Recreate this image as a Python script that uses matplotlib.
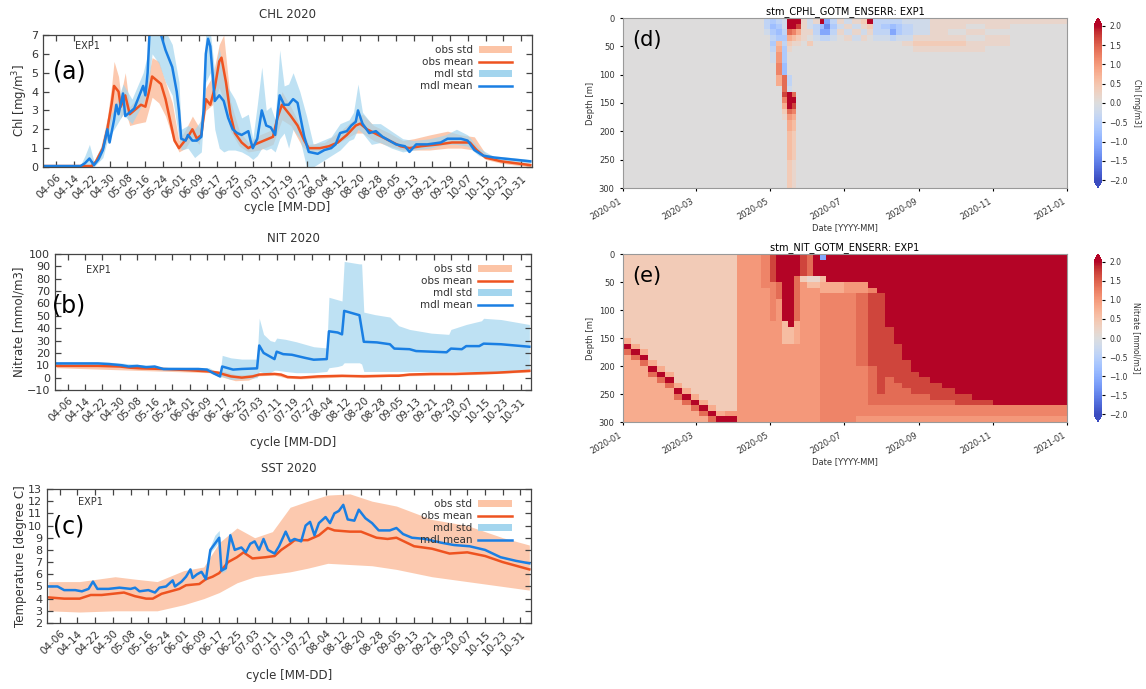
import numpy as np
import pandas as pd
import matplotlib
matplotlib.use("Agg")
import matplotlib.pyplot as plt
import matplotlib.dates as mdates
from matplotlib.patches import Patch
from matplotlib.lines import Line2D

W, H = 1146, 689

# ---------------- data ----------------
cycle_ticks = ['04-06', '04-14', '04-22', '04-30', '05-08', '05-16', '05-24', '06-01',
               '06-09', '06-17', '06-25', '07-03', '07-11', '07-19', '07-27', '08-04',
               '08-12', '08-20', '08-28', '09-05', '09-13', '09-21', '09-29', '10-07',
               '10-15', '10-23', '10-31']

# (a) CHL
chl_mdl_t = ['04-01', '04-17', '04-19', '04-21', '04-23', '04-25', '04-27', '04-29', '04-30',
             '05-02', '05-03', '05-04', '05-06', '05-07', '05-09', '05-11', '05-13', '05-15', '05-16',
             '05-17', '05-18', '05-20', '05-22', '05-23', '05-25', '05-28', '05-30', '05-31',
             '06-01', '06-03', '06-04', '06-06', '06-08', '06-10', '06-11', '06-12', '06-13', '06-14',
             '06-15', '06-16', '06-18', '06-20', '06-22', '06-24', '06-26', '06-28',
             '07-01', '07-02', '07-03', '07-05', '07-07', '07-08', '07-09', '07-11', '07-13', '07-15',
             '07-17', '07-19', '07-21', '07-23', '07-24', '07-26', '07-28',
             '08-01', '08-04', '08-07', '08-09', '08-11', '08-14', '08-16', '08-18', '08-19', '08-21',
             '08-24', '08-27', '08-30',
             '09-02', '09-05', '09-09', '09-11', '09-14', '09-19', '09-25', '09-28',
             '10-04', '10-07', '10-10', '10-14', '10-19', '10-27', '11-04']
chl_mdl = [0.05, 0.05, 0.2, 0.45, 0.1, 0.4, 0.9, 2.0, 1.3,
           2.5, 3.3, 2.8, 3.9, 2.7, 2.9, 3.1, 3.7, 4.3, 3.8, 5.0, 7.5, 8.5, 8.0, 7.0, 6.2, 5.3, 4.0, 3.0,
           1.5, 1.4, 1.7, 1.4, 1.4, 1.6, 3.0, 6.0, 6.8, 6.4, 5.0, 3.5, 3.8, 3.5, 2.6, 2.0, 1.8, 1.7,
           1.9, 1.4, 1.0, 1.5, 3.0, 2.6, 2.2, 2.1, 1.7, 3.8, 3.3, 3.3, 3.6, 3.4, 2.8, 1.6, 0.8,
           0.7, 0.9, 1.0, 1.2, 1.8, 1.9, 2.2, 2.4, 3.0, 2.3, 1.8, 1.9, 1.6,
           1.4, 1.2, 1.1, 0.8, 1.2, 1.2, 1.3, 1.5,
           1.5, 1.4, 0.9, 0.6, 0.5, 0.4, 0.3]
chl_obs_t = ['04-01', '04-22', '04-24', '04-27', '04-29',
             '05-01', '05-02', '05-04', '05-05', '05-07', '05-09', '05-11', '05-14', '05-16', '05-18',
             '05-19', '05-21', '05-23', '05-25', '05-27', '05-29', '05-31',
             '06-02', '06-04', '06-06', '06-08', '06-10', '06-12', '06-14', '06-16', '06-18', '06-19',
             '06-21', '06-23', '06-25', '06-28',
             '07-01', '07-04', '07-08', '07-12', '07-14', '07-16', '07-18', '07-20', '07-23', '07-26', '07-28',
             '08-02', '08-06', '08-10', '08-14', '08-18', '08-20', '08-23', '08-28',
             '09-02', '09-07', '09-11', '09-16', '09-24', '09-30',
             '10-04', '10-08', '10-11', '10-15', '10-22', '11-04']
chl_obs = [0.05, 0.05, 0.3, 1.0, 2.0,
           3.4, 4.3, 4.0, 3.2, 3.8, 2.8, 3.0, 3.3, 3.2, 4.2, 4.8, 4.6, 4.4, 3.6, 2.5, 1.4, 1.0,
           1.3, 1.6, 2.0, 1.5, 1.7, 3.6, 3.3, 4.2, 5.6, 5.8, 4.5, 2.8, 1.8, 1.3,
           1.0, 1.2, 1.4, 1.6, 2.6, 3.3, 3.0, 2.7, 2.2, 1.4, 1.0,
           1.0, 1.1, 1.3, 1.7, 2.2, 2.3, 2.0, 1.7,
           1.4, 1.1, 1.0, 1.1, 1.2, 1.3,
           1.3, 1.3, 0.9, 0.5, 0.3, 0.1]
chl_obs_band_t = ['04-01', '04-22', '04-26', '04-29',
                  '05-01', '05-02', '05-04', '05-05', '05-07', '05-09', '05-12', '05-16', '05-19',
                  '05-22', '05-25', '05-28', '05-31',
                  '06-03', '06-06', '06-09', '06-12', '06-15', '06-18', '06-20', '06-23', '06-27',
                  '07-01', '07-06', '07-12', '07-16', '07-20', '07-25', '07-28',
                  '08-04', '08-12', '08-18', '08-21', '08-26',
                  '09-02', '09-08', '09-13', '09-20', '09-28',
                  '10-04', '10-10', '10-15', '10-22', '11-04']
chl_obs_lo = [0, 0, 0.5, 1.6, 2.6, 3.0, 3.2, 2.6, 3.0, 2.2, 2.3, 2.4, 3.7, 3.4, 2.7, 1.6, 0.8,
              1.0, 1.6, 1.2, 3.0, 3.3, 4.2, 3.5, 1.9, 1.1, 0.8, 0.9, 1.2, 2.5, 2.2, 1.1, 0.8,
              0.9, 1.4, 1.8, 1.8, 1.4, 1.1, 0.9, 0.9, 0.9, 1.0, 1.0, 0.9, 0.4, 0.2, 0.0]
chl_obs_hi = [0.1, 0.1, 1.0, 2.6, 4.4, 5.6, 4.8, 3.8, 5.0, 3.2, 3.6, 4.0, 5.8, 5.6, 4.5, 3.4, 1.4,
              2.0, 2.7, 2.1, 4.2, 4.8, 6.5, 7.0, 3.5, 1.9, 1.3, 1.7, 2.0, 4.0, 3.2, 2.0, 1.2,
              1.3, 2.0, 2.6, 2.8, 2.2, 1.8, 1.4, 1.5, 1.7, 1.9, 1.7, 1.6, 0.7, 0.4, 0.2]
chl_mdl_band_t = ['04-01', '04-17', '04-19', '04-21', '04-23', '04-27', '04-29',
                  '05-02', '05-06', '05-10', '05-15', '05-17', '05-19', '05-22', '05-25', '05-28', '05-31',
                  '06-01', '06-04', '06-07', '06-10', '06-12', '06-14', '06-16', '06-18', '06-20',
                  '06-22', '06-25', '06-28',
                  '07-01', '07-03', '07-05', '07-07', '07-09', '07-11', '07-13', '07-15', '07-17',
                  '07-19', '07-21', '07-24', '07-27', '07-30',
                  '08-03', '08-07', '08-11', '08-15', '08-17', '08-19', '08-21', '08-25', '08-29',
                  '09-03', '09-08', '09-13', '09-20', '09-27',
                  '10-02', '10-07', '10-12', '10-18', '10-27', '11-04']
chl_mdl_lo = [0, 0, 0, 0, 0, 0.5, 1.4,
              2.0, 2.8, 2.3, 3.4, 4.0, 6.0, 5.5, 4.5, 3.8, 1.5,
              0.9, 1.0, 0.5, 0.8, 4.5, 5.0, 2.0, 1.0, 0.8, 0.9, 0.9, 0.8,
              0.6, 0.4, 0.6, 1.0, 0.9, 1.0, 0.8, 1.5, 1.8, 1.0, 2.0, 1.5, 0.0, 0.0,
              0.3, 0.6, 0.9, 1.4, 1.5, 2.0, 1.8, 1.2, 1.3,
              1.0, 0.8, 0.9, 1.0, 1.2,
              1.2, 1.1, 0.6, 0.4, 0.3, 0.2]
chl_mdl_hi = [0.1, 0.1, 0.6, 1.2, 0.3, 1.3, 2.6,
              3.0, 4.4, 3.6, 5.0, 6.0, 9.0, 9.0, 7.2, 6.5, 4.5,
              2.0, 2.2, 2.0, 2.5, 7.2, 7.2, 5.0, 6.3, 5.0, 4.2, 3.6, 2.6,
              2.8, 1.5, 3.3, 5.3, 3.0, 3.2, 2.5, 6.2, 4.3, 4.4, 5.0, 4.0, 2.7, 1.2,
              1.4, 1.6, 2.3, 2.5, 2.9, 4.4, 2.9, 2.3, 2.3,
              1.9, 1.5, 1.4, 1.5, 1.7,
              2.0, 1.7, 1.0, 0.6, 0.5, 0.4]

# (b) NIT
nit_mdl_t = ['04-01', '04-20', '04-25', '05-01', '05-04', '05-08', '05-12', '05-16', '05-20', '05-28',
             '06-05', '06-09', '06-12', '06-15', '06-16', '06-19', '06-21', '06-25', '07-02', '07-03',
             '07-05', '07-09', '07-10', '07-11', '07-14', '07-18', '07-24', '07-28', '08-03', '08-04',
             '08-08', '08-10', '08-11', '08-15', '08-18', '08-20', '08-26', '09-01', '09-03', '09-10',
             '09-13', '09-20', '09-27', '09-29', '10-04', '10-06', '10-12', '10-14', '10-22', '11-04']
nit_mdl = [11.5, 11.5, 11.0, 10.0, 9.0, 9.5, 8.5, 9.0, 7.0, 7.0,
           7.0, 6.5, 3.5, 1.0, 9.0, 7.5, 6.5, 7.0, 7.5, 26.0,
           20.0, 16.0, 15.0, 21.0, 19.0, 18.5, 16.0, 14.5, 15.0, 37.5,
           36.5, 35.0, 54.0, 52.0, 50.5, 29.0, 28.5, 27.0, 23.5, 23.0,
           21.5, 21.0, 20.5, 23.5, 23.0, 25.5, 25.5, 27.5, 27.0, 25.0]
nit_mdl_band_t = ['04-01', '04-25', '05-10', '05-20', '06-05', '06-10', '06-13', '06-15', '06-16', '06-20',
                  '06-25', '07-02', '07-03', '07-05', '07-08', '07-10', '07-11', '07-15', '07-20', '07-28',
                  '08-03', '08-04', '08-08', '08-10', '08-11', '08-18', '08-19', '08-20', '08-25', '09-01',
                  '09-05', '09-10', '09-20', '09-28', '09-29', '10-06', '10-13', '10-14', '10-22', '11-04']
nit_mdl_lo = [10, 9.5, 7.5, 6, 6, 5, 2, 0, 1, -1.5,
              -1, 0, 5, 4, 4, 6, 6, 5, 4, 4,
              5, 8, 9, 10, 12, 12, 11, 5, 5, 5,
              5, 5, 5, 5, 5, 5, 5, 5, 5, 5]
nit_mdl_hi = [12.5, 12.5, 10.5, 8.5, 8, 8, 5, 3, 18, 16,
              15, 15, 48, 35, 30, 29, 32, 31, 29, 25,
              24, 65, 63, 62, 94, 92, 92, 53, 51, 49,
              42, 39, 36, 35, 39, 43, 46, 48, 47, 43]
nit_obs_t = ['04-01', '04-20', '04-30', '05-05', '05-10', '05-20', '06-01', '06-10', '06-14', '06-17',
             '06-20', '06-25', '06-30', '07-03', '07-10', '07-13', '07-16', '07-22', '07-30', '08-10',
             '08-20', '09-01', '09-05', '09-10', '09-20', '10-01', '10-10', '10-20', '11-04']
nit_obs = [9.5, 9.5, 9.0, 8.0, 7.5, 7.0, 6.0, 5.0, 4.0, 2.5,
           1.0, 0.0, 1.0, 2.5, 3.0, 2.5, 0.5, 0.0, 1.0, 1.5,
           1.0, 1.5, 1.5, 2.5, 3.0, 3.0, 3.5, 4.0, 5.5]
nit_obs_band_t = ['04-01', '06-10', '06-17', '06-22', '06-28', '07-03', '07-10', '07-16', '07-22',
                  '08-10', '09-10', '10-10', '11-04']
nit_obs_lo = [8, 4, 0, -2.5, -2, 1.5, 2, -0.5, -1, 0.5, 1.5, 2.5, 4.5]
nit_obs_hi = [11, 6.5, 5, 2.5, 2.5, 3.5, 4, 1.5, 1, 2.5, 3.5, 4.5, 6.5]

# (c) SST
sst_obs_t = ['04-01', '04-08', '04-15', '04-20', '04-25', '04-30',
             '05-05', '05-10', '05-15', '05-18', '05-22', '05-26', '05-30',
             '06-02', '06-08', '06-11', '06-14', '06-17', '06-21', '06-25', '06-28',
             '07-02', '07-08', '07-12', '07-15', '07-19', '07-21', '07-27',
             '08-01', '08-05', '08-08', '08-15', '08-20', '08-27',
             '09-01', '09-05', '09-13', '09-21', '09-29', '10-07', '10-15', '10-23', '11-04']
sst_obs = [4.1, 4.0, 4.0, 4.3, 4.3, 4.4,
           4.5, 4.2, 4.0, 4.0, 4.4, 4.6, 4.8,
           5.1, 5.2, 5.6, 5.8, 6.1, 7.0, 7.4, 7.8,
           7.3, 7.4, 7.5, 8.0, 8.5, 8.8, 8.8,
           9.2, 9.8, 9.6, 9.5, 9.5, 9.0,
           8.9, 9.0, 8.3, 8.1, 7.7, 7.8, 7.5, 7.0, 6.4]
sst_mdl_t = ['04-01', '04-05', '04-08', '04-13', '04-16', '04-19', '04-21', '04-23', '04-28',
             '05-03', '05-08', '05-10', '05-12', '05-16', '05-19', '05-21', '05-24', '05-27', '05-28', '05-31',
             '06-02', '06-04', '06-05', '06-07', '06-09', '06-11', '06-13', '06-15', '06-17', '06-18',
             '06-20', '06-22', '06-24', '06-27', '06-29',
             '07-01', '07-03', '07-05', '07-07', '07-09', '07-12', '07-14', '07-17', '07-19', '07-21',
             '07-24', '07-26', '07-28', '07-30',
             '08-01', '08-04', '08-06', '08-08', '08-10', '08-12', '08-14', '08-17', '08-19', '08-22',
             '08-25', '08-28',
             '09-02', '09-05', '09-08', '09-12', '09-18', '09-25',
             '10-01', '10-08', '10-15', '10-22', '10-29', '11-04']
sst_mdl = [5.0, 5.0, 4.7, 4.7, 4.6, 4.8, 5.4, 4.8, 4.8,
           4.9, 4.8, 4.9, 4.6, 4.7, 4.5, 4.9, 5.0, 5.5, 5.0, 5.4,
           5.8, 6.4, 5.7, 6.0, 6.2, 5.6, 8.0, 8.5, 9.0, 6.3, 6.5, 9.2, 8.0, 8.2, 7.8,
           8.5, 8.7, 8.0, 8.9, 8.0, 7.7, 8.3, 9.5, 8.7, 8.9, 8.7, 10.0, 10.3, 9.2,
           10.2, 10.7, 10.2, 11.0, 11.2, 11.7, 10.5, 10.4, 11.3, 10.6, 10.2, 9.6,
           9.6, 9.8, 9.3, 9.0, 8.9, 8.6,
           8.4, 8.3, 8.0, 7.4, 7.1, 6.9]
sst_obs_band_t = ['04-01', '04-15', '05-01', '05-10', '05-20', '06-01', '06-10', '06-17', '06-25', '07-03',
                  '07-11', '07-19', '07-27', '08-05', '08-15', '08-25', '09-05', '09-21', '10-07', '10-23',
                  '11-04']
sst_obs_lo = [3.0, 2.9, 3.0, 3.0, 3.0, 3.5, 4.0, 4.5, 5.3, 5.8, 6.0, 6.2, 6.5, 6.9, 6.8, 6.7, 6.4, 5.8,
              5.4, 5.0, 4.7]
sst_obs_hi = [5.4, 5.4, 5.8, 5.6, 5.4, 6.3, 6.6, 8.6, 9.8, 9.0, 9.5, 11.5, 12.0, 12.5, 12.6, 12.0, 11.6,
              10.5, 10.0, 9.0, 8.4]
sst_mdl_band_t = ['06-11', '06-13', '06-15', '06-17', '06-18', '06-20', '06-22', '06-24']
sst_mdl_lo = [5.5, 7.8, 8.2, 8.7, 6.1, 6.3, 9.0, 7.8]
sst_mdl_hi = [5.7, 8.3, 9.2, 9.6, 6.6, 6.7, 9.5, 8.2]

# (d), (e) depth-time error sections, one string per time column (surface -> bottom)
# "n*c" repeats a code n times; codes map to values in err_code
err_code = {'.': 0.0, '1': 0.2, '2': 0.4, '3': 0.6, '4': 0.8, '5': 1.0, '6': 1.2, '7': 1.4,
            '8': 1.7, '9': 2.3, 'a': -0.2, 'b': -0.4, 'c': -0.6, 'd': -0.8, 'e': -1.1,
            'f': -1.4, 'g': -1.7, 'h': -2.3}

chl_err_time = ['2020-01-01', '2020-04-26', '2020-05-01', '2020-05-06', '2020-05-11', '2020-05-15',
                '2020-05-19', '2020-05-23', '2020-05-27', '2020-06-01', '2020-06-06', '2020-06-11',
                '2020-06-15', '2020-06-20', '2020-06-25', '2020-07-01', '2020-07-08', '2020-07-15',
                '2020-07-20', '2020-07-25', '2020-08-01', '2020-08-08', '2020-08-13', '2020-08-18',
                '2020-08-27', '2020-09-10', '2020-09-25', '2020-10-10', '2020-10-25', '2020-11-15',
                '2021-01-01']
chl_err_depth = [0, 10, 20, 30, 40, 50, 60, 80, 100, 120, 130, 140, 150, 160, 170, 180, 200, 250, 300]
chl_err_cols = ["18*.", "b b a 15*.", "c d c b c b a 11*.", "b c d c 3 4 5 6 4 9*.",
                "a a b c b c c d 7 7 8 6 4 2 1 3*.",
                "9 9 7 4 2 1 . . b a 9 9 9 7 5 4 3 2",
                "9 9 6 3 1 5*. 7 9 8 6 4 3 2 1",
                "9 8 4 2 1 13*.", "1 1 1 1 14*.", "a a 1 . 2 13*.", "1 b b a 14*.",
                "9 d e b 14*.", "e f e b 14*.", "b c b a 14*.", "1 a 1 . 14*.",
                "a 1 a 1 14*.", "1 a 1 a 14*.", "2 1 a 1 14*.", "9 2 1 . 14*.",
                "b b b a 14*.", "b c b a 14*.", "b d e b 14*.", "b c c a 14*.",
                "a b b a 1 13*.", "a a a 1 2 1 12*.", "1 1 1 1 2 1 12*.", "1 1 . 1 2 1 12*.",
                "1 . 1 . 1 1 12*.", "1 1 . 1 1 . 12*.", "1 . . . 14*."]

nit_err_time = ['2020-01-01', '2020-01-08', '2020-01-15', '2020-01-22', '2020-01-29', '2020-02-05',
                '2020-02-12', '2020-02-19', '2020-02-26', '2020-03-04', '2020-03-11', '2020-03-18',
                '2020-03-25', '2020-04-04', '2020-04-14', '2020-04-24', '2020-05-01', '2020-05-06',
                '2020-05-11', '2020-05-16', '2020-05-21', '2020-05-26', '2020-06-01', '2020-06-06',
                '2020-06-11', '2020-06-16', '2020-06-21', '2020-07-01', '2020-07-11', '2020-07-21',
                '2020-07-28', '2020-08-04', '2020-08-11', '2020-08-18', '2020-08-25', '2020-09-01',
                '2020-09-10', '2020-09-20', '2020-10-01', '2020-10-15', '2020-11-01', '2020-11-15',
                '2020-12-01', '2020-12-15', '2021-01-01']
nit_err_depth = list(range(0, 301, 10))
nit_err_cols = ["15*2 4 9 7 12*4", "16*2 4 9 7 11*4", "17*2 4 9 7 10*4", "19*2 4 9 7 8*4",
                "20*2 4 9 7 7*4", "21*2 4 9 7 6*4", "23*2 4 9 7 4*4", "24*2 4 9 7 3*4",
                "25*2 4 9 7 2*4", "26*2 4 9 7 4", "27*2 4 9 7", "28*2 4 9", "28*2 5 9",
                "30*5", "30*5", "6*6 24*5", "5*8 7*6 18*5", "5*9 3*7 22*5",
                "12*9 4*3 14*5", "13*9 3*3 14*5", "4*9 8*7 4*4 14*5", "4*8 2 25*5",
                "4*7 1 3 24*5", "4*9 1 3 24*5", "e 3*9 3 2*4 23*6", "5*9 2*4 23*6",
                "5*9 2*4 23*6", "5*9 2*5 23*6", "5*9 2*5 13*7 9*6 5", "6*9 6 13*8 7*7 2*6 5",
                "7*9 18*8 2*7 2*6 5", "13*9 9*8 5*7 2*6 5", "16*9 7*8 4*7 2*6 5",
                "19*9 5*8 3*7 2*6 5", "21*9 4*8 2*7 2*6 5", "22*9 3*8 2*7 2*6 5",
                "23*9 3*8 7 2*6 5", "24*9 2*8 7 2*6 5", "25*9 2*8 2*6 5", "26*9 8 2*6 5",
                "27*9 2*6 5", "27*9 2*6 5", "27*9 2*6 5", "27*9 2*6 5"]

# ---------------- styles ----------------
C_OBS_SD = '#fcc4a6'
C_OBS = '#ee5320'
C_MDL_SD = '#a3d5ee'
C_MDL = '#1a7fe3'


def md(lst):
    return pd.to_datetime(['2020-' + s for s in lst])


def expand(col):
    out = ''
    for tok in col.split():
        if '*' in tok:
            n, c = tok.split('*')
            out += c * int(n)
        else:
            out += tok
    return out


def err_grid(cols):
    return np.array([[err_code[ch] for ch in expand(c)] for c in cols]).T


def px(x0, y0, x1, y1):
    # pixel box (top-left origin) -> figure fraction rect
    return [x0 / W, 1 - y1 / H, (x1 - x0) / W, (y1 - y0) / H]


plt.rcParams['font.family'] = 'DejaVu Sans'
fig = plt.figure(figsize=(W / 100, H / 100), dpi=100)


def line_panel(rect, title, ylabel, ylim, yticks, obs_band, obs, mdl_band, mdl,
               lab, lab_y, exp_y, title_pad, xlab_y):
    ax = fig.add_axes(rect)
    ax.fill_between(md(obs_band[0]), obs_band[1], obs_band[2], color=C_OBS_SD, lw=0, alpha=0.9)
    ax.plot(md(obs[0]), obs[1], color=C_OBS, lw=1.8)
    ax.fill_between(md(mdl_band[0]), mdl_band[1], mdl_band[2], color=C_MDL_SD, lw=0, alpha=0.7)
    ax.plot(md(mdl[0]), mdl[1], color=C_MDL, lw=1.8)
    ax.set_xlim(pd.Timestamp('2020-03-31 06:00'), pd.Timestamp('2020-11-04 18:00'))
    ax.set_ylim(*ylim)
    ax.set_yticks(yticks)
    ax.set_xticks(md(cycle_ticks))
    ax.set_xticklabels(cycle_ticks, rotation=45, ha='right', va='top', rotation_mode='anchor',
                       fontsize=7.5, color='#333333')
    ax.tick_params(axis='y', labelsize=8, labelcolor='#333333')
    ax.tick_params(direction='in', top=True, right=True, length=4, width=0.9, color='#444444')
    ax.tick_params(axis='x', pad=4)
    for s in ax.spines.values():
        s.set_color('#444444')
        s.set_linewidth(0.9)
    ax.set_title(title, fontsize=8.5, pad=title_pad, color='#333333')
    ax.set_ylabel(ylabel, fontsize=8.5, color='#333333', labelpad=1)
    ax.set_xlabel('cycle [MM-DD]', fontsize=8.5, color='#333333')
    ax.xaxis.set_label_coords(0.5, xlab_y)
    ax.text(0.065, exp_y, 'EXP1', transform=ax.transAxes, fontsize=7, va='center', color='#333333')
    ax.text(lab[0], lab_y, lab[1], transform=ax.transAxes, fontsize=17, va='center', ha='left')
    handles = [Patch(facecolor=C_OBS_SD, edgecolor='none'),
               Line2D([], [], color=C_OBS, lw=1.8),
               Patch(facecolor=C_MDL_SD, edgecolor='none'),
               Line2D([], [], color=C_MDL, lw=1.8)]
    leg = ax.legend(handles, ['obs std', 'obs mean', 'mdl std', 'mdl mean'], loc='upper right',
                    bbox_to_anchor=(0.975, 0.98), frameon=False, markerfirst=False, fontsize=7.5,
                    handlelength=3.2, handleheight=0.6, labelspacing=0.2, handletextpad=0.6,
                    borderpad=0.2)
    for t in leg.get_texts():
        t.set_color('#333333')
    return ax


line_panel(px(43, 35, 532, 167), 'CHL 2020', 'Chl [mg/m$^3$]', (0, 7), range(0, 8),
           (chl_obs_band_t, chl_obs_lo, chl_obs_hi), (chl_obs_t, chl_obs),
           (chl_mdl_band_t, chl_mdl_lo, chl_mdl_hi), (chl_mdl_t, chl_mdl),
           (0.02, '(a)'), 0.72, 0.92, 12, -0.26)
line_panel(px(55, 254, 531, 390), 'NIT 2020', 'Nitrate [mmol/m3]', (-10, 100), range(-10, 101, 10),
           (nit_obs_band_t, nit_obs_lo, nit_obs_hi), (nit_obs_t, nit_obs),
           (nit_mdl_band_t, nit_mdl_lo, nit_mdl_hi), (nit_mdl_t, nit_mdl),
           (-0.006, '(b)'), 0.62, 0.88, 9, -0.34)
line_panel(px(47, 489, 531, 623), 'SST 2020', 'Temperature [degree C]', (2, 13), range(2, 14),
           (sst_obs_band_t, sst_obs_lo, sst_obs_hi), (sst_obs_t, sst_obs),
           (sst_mdl_band_t, sst_mdl_lo, sst_mdl_hi), (sst_mdl_t, sst_mdl),
           (0.013, '(c)'), 0.72, 0.9, 12, -0.34)


def err_panel(rect, crect, title, cols, tedges, dedges, clabel, lab):
    ax = fig.add_axes(rect)
    xe = mdates.date2num(pd.to_datetime(tedges))
    mesh = ax.pcolormesh(xe, dedges, err_grid(cols), cmap='coolwarm', vmin=-2, vmax=2,
                         shading='flat', rasterized=True)
    ax.set_xlim(mdates.date2num(pd.Timestamp('2020-01-01')), mdates.date2num(pd.Timestamp('2021-01-01')))
    ax.set_ylim(300, 0)
    ax.set_yticks(range(0, 301, 50))
    ax.xaxis_date()
    ax.set_xticks(mdates.date2num(pd.date_range('2020-01-01', '2021-01-01', freq='2MS')))
    ax.xaxis.set_major_formatter(mdates.DateFormatter('%Y-%m'))
    plt.setp(ax.get_xticklabels(), rotation=30, ha='right', fontsize=6, color='#333333')
    ax.tick_params(axis='y', labelsize=6, length=2.5, labelcolor='#333333')
    ax.tick_params(axis='x', length=2.5)
    for s in ax.spines.values():
        s.set_color('#999999')
    ax.set_title(title, fontsize=7, pad=3)
    ax.set_xlabel('Date [YYYY-MM]', fontsize=6, labelpad=1, color='#333333')
    ax.set_ylabel('Depth [m]', fontsize=6, labelpad=3, color='#333333')
    ax.text(0.02, 0.87, lab, transform=ax.transAxes, fontsize=15, va='center')
    cax = fig.add_axes(crect)
    cb = fig.colorbar(mesh, cax=cax, extend='both', ticks=np.arange(-2, 2.01, 0.5))
    cb.ax.tick_params(labelsize=5.5, length=2, labelcolor='#333333')
    cb.set_ticklabels(['%.1f' % v if v >= 0 else '\u2212%.1f' % -v for v in np.arange(-2, 2.01, 0.5)])
    cb.outline.set_linewidth(0)
    cb.set_label(clabel, fontsize=5.5, rotation=270, labelpad=9, color='#333333')
    return ax


err_panel(px(623, 18, 1067, 188), px(1094, 18, 1102, 188), 'stm_CPHL_GOTM_ENSERR: EXP1',
          chl_err_cols, chl_err_time, chl_err_depth, 'Chl [mg/m3]', '(d)')
err_panel(px(623, 254, 1067, 422), px(1094, 254, 1102, 422), 'stm_NIT_GOTM_ENSERR: EXP1',
          nit_err_cols, nit_err_time, nit_err_depth, 'Nitrate [mmol/m3]', '(e)')

fig.savefig('out.png', dpi=100)
